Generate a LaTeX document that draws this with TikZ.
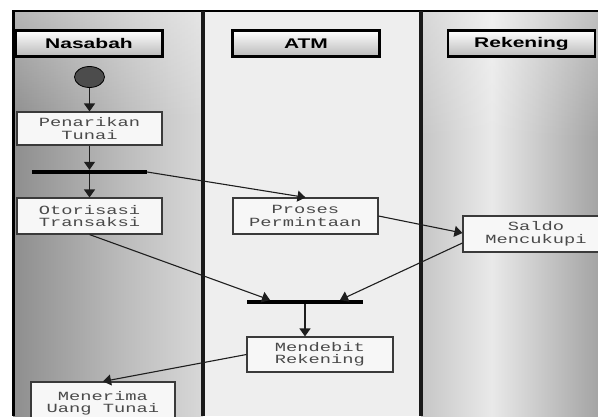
\documentclass[tikz,border=0pt]{standalone}
\usepackage{fontspec}
\setmainfont{Liberation Sans}
\newfontfamily\monof{Liberation Mono}
\usetikzlibrary{arrows.meta,shapes.geometric,fadings}
\definecolor{l1a}{HTML}{8E8E8E}
\definecolor{l1b}{HTML}{BDBDBD}
\definecolor{l1c}{HTML}{D8D8D8}
\definecolor{l2c}{HTML}{EEEEEE}
\definecolor{l3a}{HTML}{C6C6C6}
\definecolor{l3b}{HTML}{E9E9E9}
\definecolor{l3c}{HTML}{A4A4A4}
\definecolor{linec}{HTML}{1E1E1E}
\definecolor{boxline}{HTML}{3A3A3A}
\definecolor{txtc}{HTML}{4A4A4A}
\definecolor{startc}{HTML}{4C4C4C}
\pgfdeclarehorizontalshading{laneone}{100bp}{color(0bp)=(l1a); color(25bp)=(l1a); color(55bp)=(l1b); color(75bp)=(l1c); color(100bp)=(l1c)}
\pgfdeclarehorizontalshading{lanethree}{100bp}{color(0bp)=(l3a); color(25bp)=(l3a); color(45bp)=(l3b); color(75bp)=(l3c); color(100bp)=(l3c)}
\tikzset{
  hdr/.style={draw=black, line width=2.5pt, minimum width=147pt, minimum height=26pt,
    top color=white, bottom color=gray!55, inner sep=0pt,
    font=\bfseries\fontsize{14}{16}\selectfont},
  actbox/.style={draw=boxline, line width=1.1pt, fill=white!97!black, inner sep=0pt,
    align=center, text=txtc, font=\monof\fontsize{12.5}{12.5}\selectfont},
  barnode/.style={fill=black, minimum height=4pt, inner sep=0pt},
  conn/.style={draw=linec, line width=1.1pt, -{Triangle[length=8pt,width=11pt]}},
  lanediv/.style={draw=black!90, line width=4pt}
}
\newcommand{\wide}[1]{\scalebox{1.5}[1]{#1}}
\begin{document}
\begin{tikzpicture}[x=1pt,y=-1pt]
\useasboundingbox (0,0) rectangle (598,416);
\clip (0,0) rectangle (598,416);
\fill[white] (0,0) rectangle (598,416);
% lanes
\shade[shading=laneone] (13,11) rectangle (203,416);
\fill[white,opacity=0.35,path fading=south] (13,11) rectangle (203,120);
\fill[l2c] (203,11) rectangle (421,416);
\shade[shading=lanethree] (421,11) rectangle (598,416);
\fill[white,opacity=0.3,path fading=south] (421,11) rectangle (598,140);
% frame and dividers
\draw[black, line width=2pt] (12,11) -- (598,11);
\draw[black, line width=3pt] (13,11) -- (13,416);
\draw[lanediv] (203,11) -- (203,416);
\draw[lanediv] (421,11) -- (421,416);
% headers
\node[hdr] (h1) at (89,43.5) {\wide{Nasabah}};
\node[hdr] (h2) at (306,43.5) {\wide{ATM}};
\node[hdr] (h3) at (521.5,43.5) {\wide{Rekening}};
% nodes
\node[ellipse, draw=black, line width=0.8pt, fill=startc, minimum width=30pt, minimum height=21pt, inner sep=0pt] (start) at (89.5,77) {};
\node[actbox, minimum width=145pt, minimum height=33pt] (pen) at (89.5,128.5) {\wide{Penarikan}\\\wide{Tunai}};
\node[barnode, minimum width=115pt] (bar1) at (89.5,172) {};
\node[actbox, minimum width=145pt, minimum height=36pt] (oto) at (89.5,216) {\wide{Otorisasi}\\\wide{Transaksi}};
\node[actbox, minimum width=145pt, minimum height=36pt] (pro) at (305.5,216) {\wide{Proses}\\\wide{Permintaan}};
\node[actbox, minimum width=146pt, minimum height=36pt] (sal) at (536,234) {\wide{Saldo}\\\wide{Mencukupi}};
\node[barnode, minimum width=116pt] (bar2) at (305,302) {};
\node[actbox, minimum width=146pt, minimum height=35pt] (deb) at (320,354.5) {\wide{Mendebit}\\\wide{Rekening}};
\node[actbox, minimum width=144pt, minimum height=40pt, text depth=0pt] (ter) at (103,402) {\wide{Menerima}\\\wide{Uang Tunai}};
\coordinate (j2a) at (270,300);
\coordinate (j2b) at (340,300);
% connectors
\draw[conn] (start) -- (pen);
\draw[conn] (pen) -- (bar1.north);
\draw[conn] (bar1.south) -- (oto);
\draw[conn] (bar1.east) -- (pro.north);
\draw[conn] (pro.east) -- ([yshift=1pt]sal.west);
\draw[conn] ([yshift=-9pt]sal.west) -- (j2b);
\draw[conn] (oto.south) -- (j2a);
\draw[conn] (bar2.south) -- (bar2.south |- deb.north);
\draw[conn] (deb.west) -- (ter.north);
\end{tikzpicture}
\end{document}
